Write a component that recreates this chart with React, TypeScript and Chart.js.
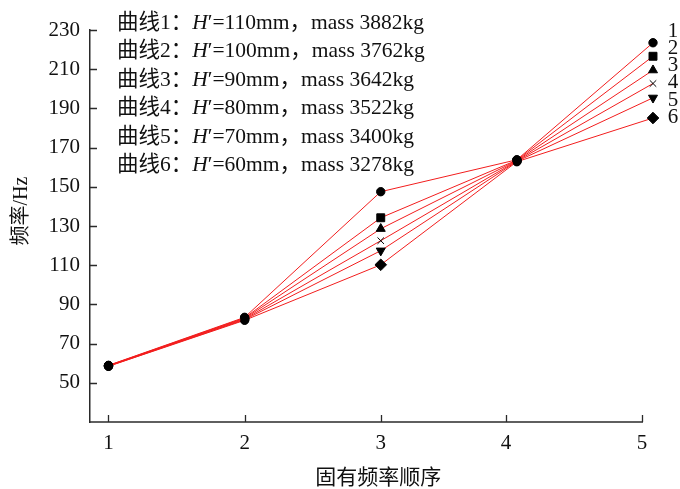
import React, { useEffect, useRef } from 'react';
import { Chart, registerables } from 'chart.js';

Chart.register(...registerables);

// ---------- data ----------
const categories = [1, 2, 3, 4, 5];
const curve1 = [58.9, 83.4, 147.5, 163.8, 223.5];
const curve2 = [58.8, 83.1, 134.2, 163.6, 216.6];
const curve3 = [58.7, 82.8, 128.6, 163.4, 209.5];
const curve4 = [58.6, 82.5, 122.5, 163.2, 202.7];
const curve5 = [58.5, 82.2, 117.4, 163.0, 195.4];
const curve6 = [58.4, 81.9, 110.2, 162.8, 185.1];
const curves = [curve1, curve2, curve3, curve4, curve5, curve6];
const seriesLabels = ['1', '2', '3', '4', '5', '6'];
const hValues = [110, 100, 90, 80, 70, 60];
const masses = [3882, 3762, 3642, 3522, 3400, 3278];
const endLabelValues = [229, 220.5, 212, 203, 194, 185.3];
const yTickValues = [50, 70, 90, 110, 130, 150, 170, 190, 210, 230];
const xTickValues = [1, 2, 3, 3.92, 4.919];
const xTickLabels = ['1', '2', '3', '4', '5'];
const xTitle = '固有频率顺序';
const yTitle = '频率/Hz';

// ---------- style ----------
const FAMILY = "'Liberation Serif', 'Noto Sans CJK SC', serif";
const FONT_SIZE = 21;
const LINE_COLOR = '#f21d1d';
const AXIS_COLOR = '#2a2a2a';
const markerStyles = ['circle', 'rect', 'triangle', 'crossRot', 'triangle', 'rectRot'];
const markerRotations = [0, 0, 0, 0, 180, 0];
const markerRadii = [4.2, 5.6, 5.2, 4.6, 5.2, 5.8];
const distinctIndex = [false, false, true, false, true];

const overlayPlugin = {
  id: 'overlay',
  afterDraw(chart: any) {
    const { ctx, chartArea, scales } = chart;
    const xs = scales.x;
    const ys = scales.y;
    ctx.save();
    const xEnd = Math.round(xs.getPixelForValue(xTickValues[xTickValues.length - 1])) + 0.5;
    // x axis line (ends at last tick)
    ctx.strokeStyle = AXIS_COLOR;
    ctx.lineWidth = 1.5;
    ctx.beginPath();
    ctx.moveTo(chartArea.left, chartArea.bottom);
    ctx.lineTo(xEnd + 0.5, chartArea.bottom);
    ctx.stroke();
    // inner ticks
    ctx.lineWidth = 1.3;
    ctx.beginPath();
    yTickValues.forEach((v) => {
      const py = Math.round(ys.getPixelForValue(v)) + 0.5;
      ctx.moveTo(chartArea.left, py);
      ctx.lineTo(chartArea.left + 7, py);
    });
    xTickValues.forEach((v) => {
      const px = Math.round(xs.getPixelForValue(v)) + 0.5;
      ctx.moveTo(px, chartArea.bottom);
      ctx.lineTo(px, chartArea.bottom - 7);
    });
    ctx.stroke();

    // text legend block
    ctx.fillStyle = '#111';
    ctx.textBaseline = 'middle';
    ctx.textAlign = 'left';
    const normal = `21.5px ${FAMILY}`;
    const italic = `italic 21.5px ${FAMILY}`;
    hValues.forEach((h, i) => {
      const y = 23 + i * 28.5;
      let x = 117;
      const parts: [string, string][] = [
        [`曲线${i + 1}：`, normal],
        ['H', italic],
        [`′=${h}mm，mass ${masses[i]}kg`, normal],
      ];
      parts.forEach(([t, f]) => {
        ctx.font = f;
        ctx.fillText(t, x, y);
        x += ctx.measureText(t).width;
      });
    });

    // end labels
    ctx.font = `${FONT_SIZE}px ${FAMILY}`;
    ctx.textAlign = 'center';
    const ex = xs.getPixelForValue(categories[categories.length - 1]) + 20;
    seriesLabels.forEach((lab, i) => {
      ctx.fillText(lab, ex, ys.getPixelForValue(endLabelValues[i]));
    });

    // axis titles
    ctx.textAlign = 'center';
    ctx.fillText(xTitle, (chartArea.left + xEnd) / 2 + 12, 478);
    ctx.save();
    ctx.translate(22, (chartArea.top + chartArea.bottom) / 2 - 15);
    ctx.rotate(-Math.PI / 2);
    ctx.font = `20px ${FAMILY}`;
    ctx.fillText(yTitle, 0, 0);
    ctx.restore();
    ctx.restore();
  },
};

export default function App() {
  const ref = useRef<HTMLCanvasElement>(null);
  useEffect(() => {
    if (!ref.current) return;
    const datasets = curves.map((vals, s) => ({
      label: seriesLabels[s],
      data: categories.map((c, i) => ({ x: c, y: vals[i] })),
      borderColor: LINE_COLOR,
      borderWidth: 1,
      backgroundColor: '#000',
      pointBackgroundColor: '#000',
      pointBorderColor: '#000',
      pointBorderWidth: 1,
      pointStyle: categories.map((_, i) => (distinctIndex[i] ? markerStyles[s] : 'circle')),
      pointRotation: categories.map((_, i) => (distinctIndex[i] ? markerRotations[s] : 0)),
      pointRadius: categories.map((_, i) => (distinctIndex[i] ? markerRadii[s] : 4.2)),
      clip: false,
      tension: 0,
    }));
    const chart = new Chart(ref.current, {
      type: 'line',
      data: { datasets },
      plugins: [overlayPlugin],
      options: {
        responsive: false,
        animation: false,
        devicePixelRatio: 1,
        layout: { padding: { top: 30, right: 18, left: 0, bottom: 0 } },
        plugins: { legend: { display: false }, tooltip: { enabled: false } },
        scales: {
          x: {
            type: 'linear',
            min: 0.8641,
            max: 5.0661,
            grid: { display: false, drawTicks: false },
            border: { display: false },
            afterBuildTicks: (scale: any) => {
              scale.ticks = xTickValues.map((v) => ({ value: v }));
            },
            afterFit: (scale: any) => {
              scale.height = 67;
            },
            ticks: {
              padding: 9,
              color: '#111',
              font: { family: FAMILY, size: FONT_SIZE },
              maxRotation: 0,
              autoSkip: false,
              callback: (_v: any, i: number) => xTickLabels[i],
            },
          },
          y: {
            type: 'linear',
            min: 30,
            max: 230,
            grid: { display: false, drawTicks: false },
            border: { display: true, color: AXIS_COLOR, width: 1.5 },
            afterBuildTicks: (scale: any) => {
              scale.ticks = yTickValues.map((v) => ({ value: v }));
            },
            afterFit: (scale: any) => {
              scale.width = 90;
            },
            ticks: {
              padding: 10,
              color: '#111',
              font: { family: FAMILY, size: FONT_SIZE },
              autoSkip: false,
              callback: (v: any) => String(v),
            },
          },
        },
      },
    });
    return () => chart.destroy();
  }, []);
  return (
    <div style={{ position: 'fixed', left: 0, top: 0, width: 680, height: 489, background: '#fff' }}>
      <canvas ref={ref} width={680} height={489} style={{ display: 'block' }} />
    </div>
  );
}
